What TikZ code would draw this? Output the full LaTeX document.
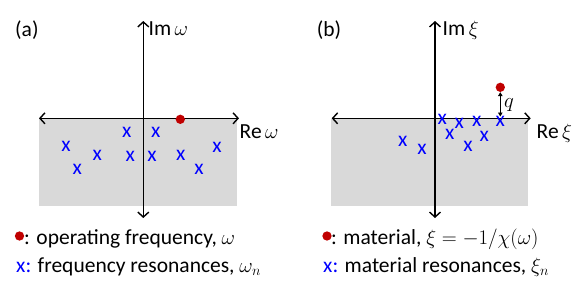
\documentclass[tikz,border=0pt]{standalone}
\usepackage{fontspec}
\setmainfont{Carlito}
\usetikzlibrary{arrows.meta}
\definecolor{dotred}{RGB}{192,0,0}
\definecolor{resblue}{RGB}{0,0,255}
\definecolor{plane}{RGB}{217,217,217}
\begin{document}
\begin{tikzpicture}[x=1pt,y=-1pt,
  axis/.style={line width=1.4pt,{Straight Barb[length=5pt,width=11pt]}-{Straight Barb[length=5pt,width=11pt]}},
  lbl/.style={font=\fontsize{21.5}{26}\selectfont,inner sep=0pt,anchor=base west},
  res/.style={text=resblue,font=\fontsize{21.5}{26}\selectfont,inner sep=0pt},
  opdot/.style={circle,fill=dotred,minimum size=9.3pt,inner sep=0pt},
  qarrow/.style={line width=0.8pt,{Triangle[length=4pt,width=4.5pt]}-{Triangle[length=4pt,width=4.5pt]}}]
\useasboundingbox (0,0) rectangle (581,287);
% ---------- panel (a)
\fill[plane] (39,119) rectangle (237,206);
\coordinate (aL) at (39,118.3);
\coordinate (aR) at (239,118.3);
\coordinate (aT) at (143.3,21);
\coordinate (aB) at (143.3,218);
\draw[axis] (aL) -- (aR);
\draw[axis] (aB) -- (aT);
\node[lbl] (alab) at (15,36) {(a)};
\node[lbl] (aim) at (148.5,35) {Im$\,\omega$};
\node[lbl] (are) at (239.5,138) {Re$\,\omega$};
\node[res] (a1) at (66,146.7) {x};
\node[res] (a2) at (77.3,169) {x};
\node[res] (a3) at (97.3,155.7) {x};
\node[res] (a4) at (126.7,132.7) {x};
\node[res] (a5) at (155.7,132.7) {x};
\node[res] (a6) at (130.3,156) {x};
\node[res] (a7) at (152,156) {x};
\node[res] (a8) at (180.7,155) {x};
\node[res] (a9) at (199,169) {x};
\node[res] (a10) at (217,147.3) {x};
\node[opdot] (adot) at (180.3,119.3) {};
% ---------- panel (b)
\fill[plane] (331,119) rectangle (528.3,206);
\coordinate (bL) at (331.7,118.3);
\coordinate (bR) at (530.7,118.3);
\coordinate (bT) at (435,21);
\coordinate (bB) at (435,218);
\draw[axis] (bL) -- (bR);
\draw[axis] (bB) -- (bT);
\node[lbl] (blab) at (316.7,36) {(b)};
\node[lbl] (bim) at (442.5,35) {Im$\,\xi$};
\node[lbl] (bre) at (536.5,138) {Re$\,\xi$};
\node[res] (b1) at (442.3,119.3) {x};
\node[res] (b2) at (459.3,123.3) {x};
\node[res] (b3) at (476.7,121.7) {x};
\node[res] (b4) at (500.3,121.7) {x};
\node[res] (b5) at (449.7,134) {x};
\node[res] (b6) at (484.3,136.7) {x};
\node[res] (b7) at (468,146) {x};
\node[res] (b8) at (402.7,141.7) {x};
\node[res] (b9) at (422,149) {x};
\node[opdot] (bdot) at (500.3,87.3) {};
\coordinate (qend) at (500.3,116.5);
\draw[qarrow] (bdot.south) -- (qend);
\node[lbl] (qlab) at (504,107) {$q$};
% ---------- legend
\node[opdot] (ldot) at (19.5,236) {};
\node[lbl] (ltxt1) at (24,244) {: operating frequency, $\omega$};
\node[lbl] (ltxt2) at (16,272) {\textcolor{resblue}{x:} frequency resonances, $\omega_n$};
\node[opdot] (rdot) at (327,236) {};
\node[lbl] (rtxt1) at (331,244) {: material, $\xi = -1/\chi(\omega)$};
\node[lbl] (rtxt2) at (323,272) {\textcolor{resblue}{x:} material resonances, $\xi_n$};
\end{tikzpicture}
\end{document}
